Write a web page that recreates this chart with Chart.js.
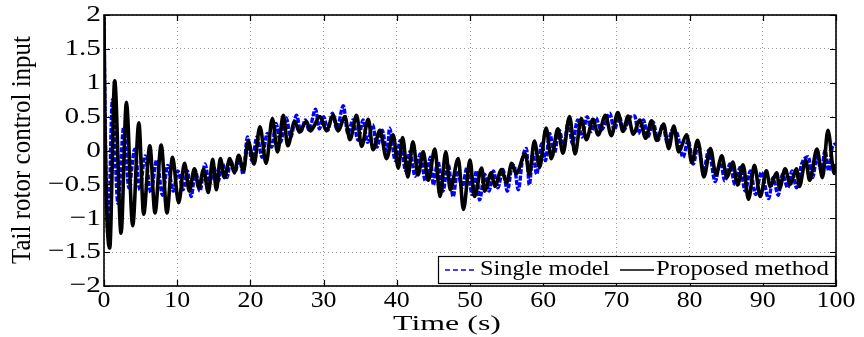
<!DOCTYPE html>
<html>
<head>
<meta charset="utf-8">
<script src="https://cdn.jsdelivr.net/npm/chart.js@4/dist/chart.umd.min.js"></script>
<style>
  html, body { margin: 0; padding: 0; background: #fff; }
  canvas { display: block; }
</style>
</head>
<body>
<canvas id="c" width="864" height="337"></canvas>
<script>
// Tail rotor control input over time: proposed controller vs single-model controller.
const tProposed = [0, 0.12, 0.78, 1.46, 2.33, 3.06, 3.92, 4.76, 5.42, 6.26, 6.97, 7.81, 8.6, 9.36, 10.2, 11.0, 11.65, 12.35, 12.95, 13.6,
  14.25, 14.85, 15.35, 15.9, 16.45, 17.2, 17.8, 18.4, 19.05, 19.7, 20.5, 21.3, 22.15, 23.0, 23.7, 24.5, 25.1, 26.05, 26.7, 27.65,
  28.2, 29.5, 30.4, 31.3, 32.0, 32.9, 33.6, 34.5, 35.2, 36.1, 36.75, 37.7, 38.6, 39.5, 40.2, 40.8, 41.5, 42.2, 42.9, 43.6,
  44.3, 45.2, 45.9, 46.7, 47.3, 48.4, 49.1, 50.0, 50.6, 51.6, 52.0, 52.9, 53.4, 54.3, 55.0, 55.7, 56.3, 57.55, 58.1, 58.8,
  59.5, 60.4, 61.1, 62.0, 62.7, 63.6, 64.35, 65.2, 65.9, 66.8, 67.5, 68.5, 69.3, 70.2, 70.9, 71.6, 72.3, 73.2, 74.0, 74.8,
  75.5, 76.45, 77.15, 77.85, 78.5, 79.6, 80.3, 81.1, 81.95, 82.85, 83.6, 84.4, 85.1, 85.9, 86.55, 87.3, 88.05, 88.85, 89.65, 90.5,
  91.0, 91.9, 92.3, 93.05, 93.75, 94.6, 95.0, 95.85, 96.4, 97.4, 98.15, 98.9, 99.75, 100];
const uProposed = [1.97, 0.5, -1.44, 1.03, -1.22, 0.71, -1.11, 0.41, -0.94, 0.07, -0.92, 0.08, -0.92, -0.1, -0.77, -0.19, -0.6, -0.27, -0.55, -0.28,
  -0.62, -0.13, -0.58, -0.12, -0.4, -0.12, -0.33, -0.07, -0.3, 0.14, -0.2, 0.35, -0.19, 0.47, -0.02, 0.52, 0.07, 0.43, 0.27, 0.43,
  0.29, 0.5, 0.29, 0.52, 0.29, 0.5, 0.16, 0.52, 0.06, 0.46, 0.01, 0.3, -0.12, 0.23, -0.26, 0.19, -0.39, 0.13, -0.36, -0.02,
  -0.44, 0.02, -0.68, -0.02, -0.58, -0.12, -0.87, -0.14, -0.68, -0.26, -0.6, -0.33, -0.53, -0.28, -0.48, -0.19, -0.34, -0.05, -0.35, 0.14,
  -0.25, 0.33, -0.12, 0.32, -0.04, 0.5, -0.05, 0.47, 0.16, 0.46, 0.23, 0.52, 0.22, 0.56, 0.28, 0.51, 0.24, 0.45, 0.18, 0.44,
  0.15, 0.39, 0.03, 0.36, -0.02, 0.23, -0.18, 0.15, -0.39, 0.03, -0.36, -0.08, -0.4, -0.17, -0.51, -0.21, -0.72, -0.22, -0.68, -0.3,
  -0.53, -0.33, -0.56, -0.27, -0.5, -0.27, -0.53, -0.14, -0.44, 0.02, -0.4, 0.3, -0.34, -0.2];

const tSingle = [0, 0.1, 0.55, 1.15, 1.9, 2.7, 3.4, 4.2, 4.9, 5.6, 6.4, 7.2, 8.0, 8.7, 9.45, 10.1, 10.8, 11.4, 11.9, 12.5,
  13.1, 13.8, 14.4, 15.0, 15.6, 16.2, 16.8, 17.3, 17.9, 18.5, 19.0, 19.6, 20.2, 20.9, 21.6, 22.3, 22.9, 23.5, 24.1, 24.9,
  25.5, 26.3, 26.9, 27.5, 28.0, 28.9, 29.4, 30.0, 30.6, 31.2, 31.8, 32.7, 33.3, 34.0, 34.7, 35.4, 36.0, 36.7, 37.3, 38.0,
  38.7, 39.0, 39.8, 40.5, 41.2, 41.8, 42.5, 43.2, 43.9, 44.6, 45.0, 45.6, 46.3, 47.0, 47.7, 48.3, 48.9, 49.6, 50.3, 50.9,
  51.3, 52.0, 52.6, 53.2, 53.8, 54.5, 55.1, 55.7, 56.0, 56.6, 57.2, 57.7, 58.1, 58.6, 59.1, 59.8, 60.3, 60.9, 61.5, 62.2,
  62.8, 63.4, 64.0, 64.7, 65.3, 66.0, 66.6, 67.2, 67.9, 68.5, 69.1, 69.7, 70.4, 71.0, 71.8, 72.5, 73.0, 73.7, 74.3, 75.0,
  75.7, 76.3, 77.0, 77.6, 78.3, 79.1, 79.8, 80.5, 81.2, 81.9, 82.6, 83.5, 84.2, 84.8, 85.5, 86.2, 86.9, 87.6, 88.3, 89.0,
  89.8, 90.8, 91.4, 92.1, 92.7, 93.4, 94.0, 94.6, 95.3, 96.2, 96.8, 97.4, 98.0, 98.5, 99.0, 99.5, 100];
const uSingle = [2.0, 0.9, -1.27, 0.75, -0.78, 0.35, -0.55, 0.02, -0.58, -0.08, -0.62, -0.14, -0.66, -0.22, -0.6, -0.3, -0.58, -0.3, -0.68, -0.3,
  -0.6, -0.2, -0.5, -0.25, -0.45, -0.2, -0.4, -0.15, -0.32, -0.1, -0.35, 0.2, -0.15, 0.2, -0.1, 0.25, 0.05, 0.4, 0.12, 0.48,
  0.2, 0.52, 0.28, 0.45, 0.3, 0.61, 0.32, 0.5, 0.3, 0.55, 0.32, 0.66, 0.25, 0.45, 0.15, 0.45, 0.12, 0.38, 0.05, 0.3,
  -0.05, 0.33, -0.15, 0.15, -0.3, -0.02, -0.38, -0.05, -0.45, -0.1, -0.51, -0.15, -0.6, -0.2, -0.68, -0.3, -0.55, -0.25, -0.65, -0.3,
  -0.73, -0.35, -0.6, -0.3, -0.55, -0.28, -0.6, -0.25, -0.22, -0.58, -0.1, 0.03, -0.51, -0.05, -0.35, 0.1, -0.15, 0.25, -0.05, 0.3,
  0.05, 0.42, 0.1, 0.45, 0.2, 0.5, 0.28, 0.48, 0.3, 0.4, 0.55, 0.3, 0.5, 0.3, 0.48, 0.51, 0.25, 0.45, 0.2, 0.42,
  0.15, 0.38, 0.1, 0.3, 0.25, -0.1, 0.15, -0.2, 0.1, -0.3, 0.0, -0.46, -0.15, -0.45, -0.2, -0.5, -0.25, -0.6, -0.3, -0.65,
  -0.32, -0.71, -0.4, -0.66, -0.35, -0.55, -0.3, -0.55, -0.2, -0.09, -0.4, -0.1, -0.3, 0.0, -0.3, 0.05, 0.1];

const xTickValues = [0, 10, 20, 30, 40, 50, 60, 70, 80, 90, 100];
const yTickValues = [-2, -1.5, -1, -0.5, 0, 0.5, 1, 1.5, 2];
const xTitle = 'Time (s)';
const yTitle = 'Tail rotor control input';

const SERIF = '"Liberation Serif", "Times New Roman", serif';
const fmt = v => (v < 0 ? '\u2212' : '') + String(Math.abs(v));

function wideText(ctx, str, x, y, align, baseline, sx) {
  ctx.save();
  ctx.translate(x, y);
  ctx.scale(sx, 1);
  ctx.textAlign = align;
  ctx.textBaseline = baseline;
  ctx.fillText(str, 0, 0);
  ctx.restore();
}

// Frame, inward tick marks, tick labels, axis titles and the boxed legend.
const axesPlugin = {
  id: 'axesPlugin',
  beforeDraw(chart) {
    const ctx = chart.ctx;
    ctx.save();
    ctx.fillStyle = '#fff';
    ctx.fillRect(0, 0, chart.width, chart.height);
    ctx.restore();
  },
  afterDraw(chart) {
    const { ctx, chartArea: a, scales: { x, y } } = chart;
    ctx.save();
    ctx.strokeStyle = '#000';
    ctx.lineWidth = 1.6;
    ctx.strokeRect(a.left, a.top, a.right - a.left, a.bottom - a.top);

    ctx.lineWidth = 1.2;
    ctx.beginPath();
    xTickValues.forEach(v => {
      const px = Math.round(x.getPixelForValue(v)) + 0.5;
      ctx.moveTo(px, a.bottom); ctx.lineTo(px, a.bottom - 6);
      ctx.moveTo(px, a.top); ctx.lineTo(px, a.top + 6);
    });
    yTickValues.forEach(v => {
      const py = Math.round(y.getPixelForValue(v)) + 0.5;
      ctx.moveTo(a.left, py); ctx.lineTo(a.left + 6, py);
      ctx.moveTo(a.right, py); ctx.lineTo(a.right - 6, py);
    });
    ctx.stroke();

    ctx.fillStyle = '#000';
    ctx.font = '24px ' + SERIF;
    xTickValues.forEach(v => {
      wideText(ctx, fmt(v), x.getPixelForValue(v), a.bottom + 3, 'center', 'top', 1.08);
    });
    yTickValues.forEach(v => {
      wideText(ctx, fmt(v), a.left - 3, y.getPixelForValue(v), 'right', 'middle', 1.22);
    });

    ctx.font = '22px ' + SERIF;
    wideText(ctx, xTitle, 447, 324, 'center', 'middle', 1.45);

    ctx.save();
    ctx.font = '25px ' + SERIF;
    ctx.translate(23, 150);
    ctx.rotate(-Math.PI / 2);
    ctx.scale(1, 1.12);
    ctx.textAlign = 'center';
    ctx.textBaseline = 'middle';
    ctx.fillText(yTitle, 0, 0);
    ctx.restore();

    // legend box
    const ds = chart.data.datasets;
    const single = ds[1], proposed = ds[0];
    const bx = 438, by = 256, bw = a.right - 438 - 1, bh = 27;
    ctx.fillStyle = '#fff';
    ctx.fillRect(bx, by, bw, bh);
    ctx.strokeStyle = '#000';
    ctx.lineWidth = 1.2;
    ctx.strokeRect(bx + 0.5, by + 0.5, bw, bh);
    const cy = by + 14;
    ctx.lineWidth = 1.5;
    ctx.strokeStyle = single.borderColor;
    ctx.setLineDash([5, 3]);
    ctx.beginPath(); ctx.moveTo(445, cy); ctx.lineTo(477, cy); ctx.stroke();
    ctx.setLineDash([]);
    ctx.strokeStyle = proposed.borderColor;
    ctx.beginPath(); ctx.moveTo(620, cy); ctx.lineTo(654, cy); ctx.stroke();
    ctx.fillStyle = '#000';
    ctx.font = '20px ' + SERIF;
    wideText(ctx, single.label, 480, cy, 'left', 'middle', 1.22);
    wideText(ctx, proposed.label, 656, cy, 'left', 'middle', 1.24);
    ctx.restore();
  }
};

const toPoints = (ts, us) => ts.map((t, i) => ({ x: t, y: us[i] }));

new Chart(document.getElementById('c'), {
  type: 'line',
  data: {
    datasets: [
      {
        label: 'Proposed method',
        data: toPoints(tProposed, uProposed),
        borderColor: '#000000',
        borderWidth: 3.6,
        pointRadius: 0,
        cubicInterpolationMode: 'monotone',
        fill: false
      },
      {
        label: 'Single model',
        data: toPoints(tSingle, uSingle),
        borderColor: '#0000ff',
        borderWidth: 3.4,
        borderDash: [5, 1.5],
        pointRadius: 0,
        cubicInterpolationMode: 'monotone',
        fill: false
      }
    ]
  },
  options: {
    responsive: false,
    animation: false,
    devicePixelRatio: 1,
    layout: { padding: { left: 104, right: 28, top: 15, bottom: 51 } },
    plugins: { legend: { display: false }, tooltip: { enabled: false } },
    scales: {
      x: {
        type: 'linear', min: 0, max: 100,
        ticks: { stepSize: 10, display: false },
        grid: { color: 'rgba(0,0,0,0.38)', lineWidth: 1, drawTicks: false },
        border: { display: false, dash: [1, 3] },
        afterFit(s) { s.height = 0; }
      },
      y: {
        type: 'linear', min: -2, max: 2,
        ticks: { stepSize: 0.5, display: false },
        grid: { color: 'rgba(0,0,0,0.38)', lineWidth: 1, drawTicks: false },
        border: { display: false, dash: [1, 3] },
        afterFit(s) { s.width = 0; }
      }
    }
  },
  plugins: [axesPlugin]
});
</script>
</body>
</html>
